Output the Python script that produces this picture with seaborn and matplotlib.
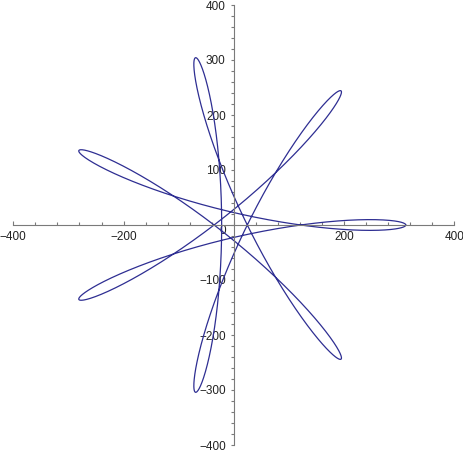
import numpy as np
import pandas as pd
import matplotlib
matplotlib.use("Agg")
import matplotlib.pyplot as plt
import matplotlib.transforms as mtransforms
from matplotlib.ticker import MultipleLocator, FixedLocator
import seaborn as sns

# curve terms: z(t) = sum amp * exp(i * freq * t)
# tip radius ~312, loop crossing ~123, loop width ~19
AMPLITUDES = [167.0, 145.0]
FREQUENCIES = [3, -4]

X_MAJOR = [-400, -200, 200, 400]
Y_MAJOR = [-400, -300, -200, -100, 0, 100, 200, 300, 400]

t = np.linspace(0, 2 * np.pi, 3000)
z = sum(a * np.exp(1j * f * t) for a, f in zip(AMPLITUDES, FREQUENCIES))
df = pd.DataFrame({"x": z.real, "y": z.imag, "t": t})

sns.set_style("white")
plt.rcParams["font.family"] = ["Liberation Sans", "DejaVu Sans"]

fig = plt.figure(figsize=(4.63, 4.51), dpi=100)
ax = fig.add_axes([13.3 / 463, 6 / 451, 441 / 463, 440 / 451])

sns.lineplot(data=df, x="x", y="y", sort=False, estimator=None,
             color="#2e2e92", linewidth=0.9, ax=ax)

ax.set_xlim(-400, 400)
ax.set_ylim(-400, 400)
ax.set_xlabel("")
ax.set_ylabel("")

axis_col = "#7a7a7a"
for side in ["top", "right"]:
    ax.spines[side].set_visible(False)
ax.spines["left"].set_position("zero")
ax.spines["bottom"].set_position("zero")
for side in ["left", "bottom"]:
    ax.spines[side].set_color(axis_col)
    ax.spines[side].set_linewidth(0.8)

ax.xaxis.set_major_locator(FixedLocator(X_MAJOR))
ax.xaxis.set_minor_locator(MultipleLocator(40))
ax.yaxis.set_major_locator(FixedLocator(Y_MAJOR))
ax.yaxis.set_minor_locator(MultipleLocator(20))

# seaborn's white style switches ticks off, turn them back on
ax.tick_params(axis="x", which="both", bottom=True, top=False, direction="in",
               color=axis_col, width=0.8, labelsize=8.5, labelcolor="#222222", pad=4.2)
ax.tick_params(axis="x", which="major", length=3.0)
ax.tick_params(axis="x", which="minor", length=2.4)
ax.tick_params(axis="y", which="both", left=True, right=False, direction="out",
               color=axis_col, width=0.8, labelsize=8.5, labelcolor="#222222",
               pad=3.4, length=2.4)
ax.set_xticklabels([str(v).replace("-", "\u2212") for v in X_MAJOR])
ax.set_yticklabels([str(v).replace("-", "\u2212") for v in Y_MAJOR])

# the "0" label sits a little below the x axis
fig.canvas.draw()
for lab in ax.get_yticklabels():
    if lab.get_text() == "0":
        lab.set_transform(lab.get_transform() +
                          mtransforms.ScaledTranslation(0, -4 / 100, fig.dpi_scale_trans))

ax.set_facecolor("white")
fig.patch.set_facecolor("white")
fig.savefig("out.png", dpi=100)
